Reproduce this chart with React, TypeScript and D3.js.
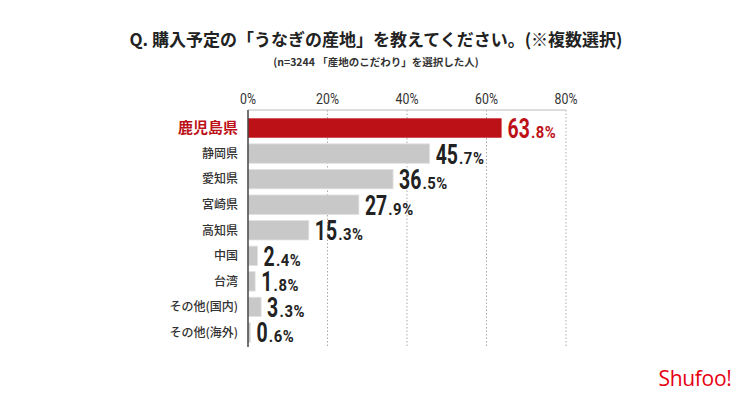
import * as d3 from "d3";

const categories = [
  "鹿児島県",
  "静岡県",
  "愛知県",
  "宮崎県",
  "高知県",
  "中国",
  "台湾",
  "その他(国内)",
  "その他(海外)",
];
const values = [63.8, 45.7, 36.5, 27.9, 15.3, 2.4, 1.8, 3.3, 0.6];
const ticks = [0, 20, 40, 60, 80];

const title = "Q. 購入予定の「うなぎの産地」を教えてください。(※複数選択)";
const subtitle = "(n=3244 「産地のこだわり」を選択した人)";

const RED = "#bd1118";
const GRAY = "#c8c8c8";
const FONT = "'Noto Sans CJK JP', 'Noto Sans', sans-serif";
const NUM_FONT = "Roboto, sans-serif";

export default function App() {
  const width = 750;
  const height = 403;
  const axisTop = 110;
  const axisBottom = 347;

  const x = d3.scaleLinear().domain([0, 80]).range([248, 566]);

  const y = d3
    .scaleBand()
    .domain(categories)
    .range([116, 344.5])
    .paddingInner(0.24)
    .paddingOuter(0.09);

  const bigSize = 27;
  const smallSize = 16.5;
  const bigScale = 0.72;
  const smallScale = 0.9;

  return (
    <svg
      width={width}
      height={height}
      style={{ position: "absolute", left: 0, top: 0, background: "#fff" }}
      fontFamily={FONT}
    >
      <text
        x={376}
        y={46}
        textAnchor="middle"
        fontSize={17}
        fontWeight="bold"
        fill="#222"
      >
        {title}
      </text>
      <text
        x={376}
        y={66}
        textAnchor="middle"
        fontSize={10.5}
        fontWeight="bold"
        fill="#333"
      >
        {subtitle}
      </text>

      {/* grid */}
      {ticks.map((t) => (
        <g key={t}>
          {t > 0 && (
            <line
              x1={x(t)}
              x2={x(t)}
              y1={axisTop}
              y2={axisBottom}
              stroke="#aaa"
              strokeWidth={1}
              strokeDasharray="1.5,2"
            />
          )}
          <text
            x={x(t)}
            y={104}
            textAnchor="middle"
            fontSize={14.5}
            fill="#333"
            fontFamily={NUM_FONT}
            transform={`translate(${x(t)},0) scale(0.85,1) translate(${-x(t)},0)`}
          >
            {t}%
          </text>
        </g>
      ))}
      <line
        x1={x(0)}
        x2={x(80)}
        y1={axisTop}
        y2={axisTop}
        stroke="#bbb"
        strokeWidth={1}
      />

      {/* bars */}
      {categories.map((c, i) => {
        const v = values[i];
        const top = y(c)!;
        const bw = y.bandwidth();
        const cy = top + bw / 2;
        const isFirst = i === 0;
        const [intPart, decPart] = v.toFixed(1).split(".");
        const lx = x(v) + 6;
        const sx = lx + intPart.length * bigSize * 0.562 * bigScale + 1.5;
        const col = isFirst ? RED : "#222";
        return (
          <g key={c}>
            <rect
              x={x(0)}
              y={top}
              width={x(v) - x(0)}
              height={bw}
              fill={isFirst ? RED : GRAY}
              stroke={isFirst ? "none" : "#e2e2e2"}
              strokeWidth={0.8}
            />
            <text
              x={238}
              y={cy}
              dy="0.36em"
              textAnchor="end"
              fontSize={isFirst ? 15 : 12}
              fontWeight={isFirst ? "bold" : 500}
              fill={isFirst ? RED : "#333"}
            >
              {c}
            </text>
            <text
              x={lx}
              y={cy + 10}
              fontFamily={NUM_FONT}
              fontWeight="bold"
              fontSize={bigSize}
              fill={col}
              transform={`translate(${lx},0) scale(${bigScale},1) translate(${-lx},0)`}
            >
              {intPart}
            </text>
            <text
              x={sx}
              y={cy + 10}
              fontFamily={NUM_FONT}
              fontWeight="bold"
              fontSize={smallSize}
              letterSpacing={0.6}
              fill={col}
              transform={`translate(${sx},0) scale(${smallScale},1) translate(${-sx},0)`}
            >
              .{decPart}%
            </text>
          </g>
        );
      })}

      <line
        x1={x(0)}
        x2={x(0)}
        y1={axisTop}
        y2={axisBottom}
        stroke="#444"
        strokeWidth={1.5}
      />

      <text
        x={695}
        y={386}
        textAnchor="middle"
        fontSize={21}
        fontWeight={500}
        fontFamily="'Open Sans', sans-serif"
        fill="#e60012"
        letterSpacing={-0.3}
      >
        Shufoo!
      </text>
    </svg>
  );
}
